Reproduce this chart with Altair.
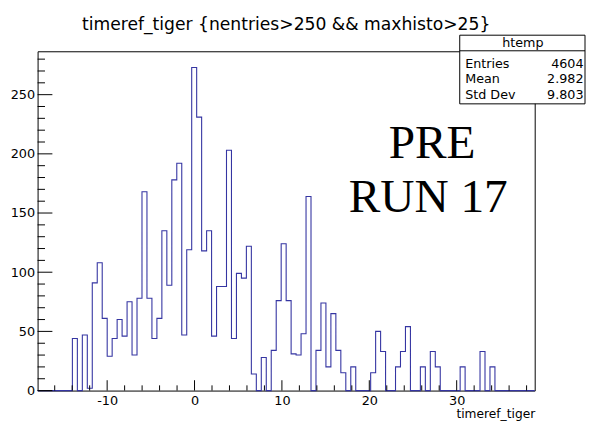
import altair as alt
import pandas as pd

# ---------------- data ----------------
title_text = "timeref_tiger {nentries>250 && maxhisto>25}"
x_title = "timeref_tiger"
x_min, x_max = -17.96, 38.93
n_bins = 100
counts = [0, 0, 0, 0, 0, 0, 0, 44, 0, 47,
          2, 91, 108, 61, 29, 44, 60, 46, 75, 30,
          78, 168, 78, 44, 61, 135, 89, 178, 192, 47,
          119, 273, 231, 118, 135, 46, 88, 88, 203, 44,
          99, 95, 122, 14, 0, 28, 0, 34, 76, 124,
          76, 31, 30, 48, 164, 0, 34, 74, 20, 65,
          34, 15, 0, 20, 0, 0, 0, 15, 50, 33,
          0, 0, 20, 33, 54, 0, 0, 20, 0, 33,
          20, 0, 0, 0, 0, 20, 0, 0, 0, 33,
          0, 20, 0, 0, 0, 0, 0, 0, 0, 0]
y_max = 286.65
x_major = [-10, 0, 10, 20, 30]
x_minor = [-16, -14, -12, -8, -6, -4, -2, 2, 4, 6, 8, 12, 14, 16, 18,
           22, 24, 26, 28, 32, 34, 36, 38]
y_major = [0, 50, 100, 150, 200, 250]
y_minor = [10, 20, 30, 40, 60, 70, 80, 90, 110, 120, 130, 140, 160, 170,
           180, 190, 210, 220, 230, 240, 260, 270, 280]
stats_name = "htemp"
stat_labels = ["Entries", "Mean", "Std Dev"]
stat_values = ["4604", "2.982", "9.803"]
note_lines = ["PRE", "RUN 17"]

# ---------------- build ----------------
W, H = 504, 344
FONT = "DejaVu Sans"
width_bin = (x_max - x_min) / n_bins
edges = [x_min + k * width_bin for k in range(n_bins + 1)]
hist = pd.DataFrame({"x": edges, "n": counts + [counts[-1]]})

xs = alt.Scale(domain=[x_min, x_max], nice=False, zero=False)
ys = alt.Scale(domain=[0, y_max], nice=False, zero=False)
x_axis = alt.Axis(
    values=x_major, ticks=False, domain=False, grid=False,
    labelFont=FONT, labelFontSize=13, labelColor="black", labelPadding=4,
    labelExpr="toString(datum.value)",
    title=x_title, titleFont=FONT, titleFontSize=12.4,
    titleFontWeight="normal", titleColor="black",
    titleAnchor="end", titleAlign="right", titleBaseline="alphabetic",
    titleX=W, titleY=27.5)
y_axis = alt.Axis(
    values=y_major, ticks=False, domain=False, grid=False,
    labelFont=FONT, labelFontSize=13, labelColor="black", labelPadding=3,
    labelExpr="toString(datum.value)", title=None)

def X():
    return alt.X("x:Q", scale=xs, axis=x_axis)

def Y():
    return alt.Y("n:Q", scale=ys, axis=y_axis)

line = alt.Chart(hist).mark_line(
    interpolate="step-after", color="#3535a2", strokeWidth=1.1
).encode(x=X(), y=Y())

def xticks(vals, length):
    return alt.Chart(pd.DataFrame({"x": vals})).mark_rule(
        color="black", strokeWidth=1).encode(
        x=X(), y=alt.value(H), y2=alt.value(H - length))

def yticks(vals, length):
    return alt.Chart(pd.DataFrame({"n": vals})).mark_rule(
        color="black", strokeWidth=1).encode(
        y=Y(), x=alt.value(0), x2=alt.value(length))

one = pd.DataFrame({"a": [0]})

def label(text, x, y, size, align="left", font=FONT):
    return alt.Chart(one).mark_text(
        font=font, fontSize=size, color="black", align=align,
        baseline="alphabetic").encode(
        x=alt.value(x), y=alt.value(y), text=alt.value(text))

box = alt.Chart(one).mark_rect(fill="white", stroke="black", strokeWidth=1).encode(
    x=alt.value(428), x2=alt.value(555), y=alt.value(-16.3), y2=alt.value(53.3))
sep = alt.Chart(one).mark_rule(color="black", strokeWidth=1).encode(
    x=alt.value(428), x2=alt.value(555), y=alt.value(-0.5))

row_y = [16.5, 32.5, 48.0]
layers = [line,
          xticks(x_major, 10.5), xticks(x_minor, 5.3),
          yticks(y_major, 15), yticks(y_minor, 7.5),
          label(note_lines[0], 400, 108, 48, "center", "Liberation Serif"),
          label(note_lines[1], 396, 163, 48, "center", "Liberation Serif"),
          label(title_text, W / 2, -22, 17.4, "center"),
          box, sep,
          label(stats_name, 492, -4.5, 12.9, "center")]
for lab, val, yy in zip(stat_labels, stat_values, row_y):
    layers.append(label(lab, 433.5, yy, 12.9, "left"))
    layers.append(label(val, 553.5, yy, 12.9, "right"))

chart = alt.layer(*layers).properties(
    width=W, height=H,
    padding={"left": 30, "top": 41, "right": 52, "bottom": 31},
    autosize=alt.AutoSizeParams(type="none"),
).configure_view(stroke="black", strokeWidth=1)

chart.save("out.html", embed_options={"renderer": "svg", "actions": False})
